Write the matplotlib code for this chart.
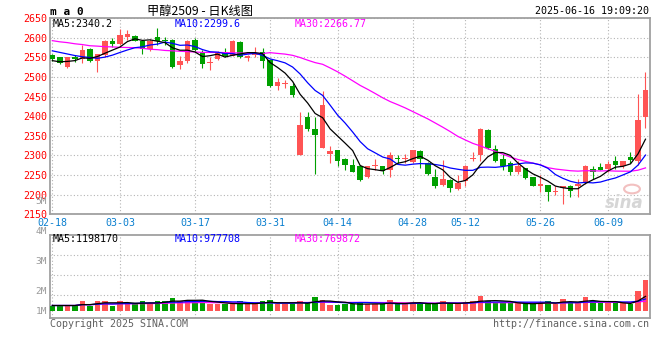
import numpy as np
import pandas as pd
import matplotlib
matplotlib.use("Agg")
import matplotlib.pyplot as plt

# ---------------- data ----------------
dates = ["02-18", "02-19", "02-20", "02-21", "02-24", "02-25", "02-26", "02-27", "02-28",
         "03-03", "03-04", "03-05", "03-06", "03-07", "03-10", "03-11", "03-12", "03-13", "03-14",
         "03-17", "03-18", "03-19", "03-20", "03-21", "03-24", "03-25", "03-26", "03-27", "03-28",
         "03-31", "04-01", "04-02", "04-03", "04-07", "04-08", "04-09", "04-10", "04-11",
         "04-14", "04-15", "04-16", "04-17", "04-18", "04-21", "04-22", "04-23", "04-24", "04-25",
         "04-28", "04-29", "04-30", "05-06", "05-07", "05-08", "05-09",
         "05-12", "05-13", "05-14", "05-15", "05-16", "05-19", "05-20", "05-21", "05-22", "05-23",
         "05-26", "05-27", "05-28", "05-29", "05-30", "06-03", "06-04", "06-05", "06-06",
         "06-09", "06-10", "06-11", "06-12", "06-13", "06-16"]

opens = [2556, 2550, 2527, 2552, 2545, 2572, 2540, 2556, 2593, 2584,
         2602, 2605, 2591, 2571, 2603, 2593, 2595, 2531, 2540, 2595,
         2565, 2535, 2545, 2563, 2555, 2589, 2548, 2557, 2563, 2544,
         2478, 2482, 2478, 2300, 2399, 2367, 2320, 2303, 2314, 2291,
         2276, 2274, 2244, 2273, 2272, 2262, 2294, 2291, 2283, 2312,
         2282, 2245, 2225, 2238, 2215, 2234, 2292, 2302, 2365, 2316,
         2291, 2282, 2257, 2268, 2245, 2223, 2225, 2208, 2217, 2223,
         2221, 2229, 2265, 2270, 2266, 2285, 2272, 2297, 2285, 2399]
highs = [2560, 2552, 2552, 2556, 2582, 2574, 2560, 2594, 2599, 2623,
         2620, 2608, 2592, 2596, 2624, 2603, 2597, 2554, 2595, 2599,
         2569, 2552, 2567, 2575, 2595, 2591, 2557, 2578, 2574, 2546,
         2497, 2493, 2484, 2412, 2412, 2399, 2465, 2323, 2315, 2293,
         2291, 2275, 2274, 2291, 2273, 2310, 2302, 2303, 2314, 2313,
         2284, 2266, 2289, 2240, 2251, 2275, 2310, 2371, 2367, 2327,
         2303, 2286, 2287, 2269, 2246, 2249, 2226, 2221, 2223, 2224,
         2240, 2275, 2272, 2282, 2287, 2299, 2287, 2310, 2457, 2512]
lows = [2542, 2533, 2524, 2539, 2537, 2538, 2512, 2552, 2578, 2582,
        2595, 2591, 2558, 2567, 2582, 2582, 2524, 2520, 2535, 2567,
        2523, 2517, 2543, 2550, 2553, 2548, 2540, 2552, 2524, 2476,
        2467, 2472, 2450, 2300, 2363, 2253, 2318, 2280, 2274, 2263,
        2257, 2234, 2242, 2263, 2252, 2244, 2280, 2280, 2281, 2268,
        2250, 2217, 2221, 2206, 2211, 2221, 2286, 2287, 2316, 2283,
        2262, 2249, 2254, 2240, 2221, 2208, 2183, 2200, 2176, 2195,
        2193, 2227, 2240, 2262, 2257, 2266, 2269, 2280, 2276, 2370]
closes = [2546, 2535, 2550, 2545, 2569, 2540, 2558, 2592, 2585, 2608,
          2610, 2593, 2572, 2592, 2591, 2592, 2527, 2541, 2592, 2569,
          2533, 2538, 2561, 2555, 2591, 2550, 2555, 2561, 2542, 2478,
          2487, 2483, 2455, 2378, 2367, 2353, 2429, 2312, 2287, 2276,
          2259, 2238, 2272, 2274, 2261, 2302, 2292, 2292, 2313, 2291,
          2252, 2221, 2240, 2217, 2229, 2274, 2293, 2368, 2319, 2285,
          2272, 2257, 2272, 2242, 2223, 2228, 2208, 2209, 2221, 2210,
          2228, 2274, 2258, 2264, 2279, 2276, 2285, 2289, 2391, 2467]
volumes = [440000, 440000, 440000, 440000, 800000, 440000, 800000, 800000, 440000, 800000,
           536000, 536000, 800000, 536000, 800000, 800000, 1016000, 800000, 856000, 800000,
           856000, 536000, 536000, 536000, 536000, 800000, 536000, 536000, 800000, 880000,
           536000, 536000, 536000, 800000, 696000, 1120000, 880000, 480000, 480000, 536000,
           536000, 696000, 536000, 536000, 536000, 880000, 536000, 536000, 744000, 616000,
           536000, 536000, 800000, 616000, 536000, 744000, 800000, 1200000, 800000, 616000,
           616000, 616000, 616000, 536000, 536000, 744000, 800000, 536000, 960000, 696000,
           616000, 1120000, 800000, 616000, 616000, 616000, 616000, 536000, 1600000, 2480000]

ma5_head = [2542, 2539, 2540, 2542]
ma10_head = [2567, 2563, 2559, 2555, 2552, 2550, 2548, 2551, 2556]
ma30_head = [2593, 2590, 2588, 2585, 2583, 2580, 2579, 2577.6, 2577, 2576,
             2575.5, 2575, 2573.5, 2571, 2570, 2568, 2567, 2566, 2565, 2564,
             2563, 2563, 2563, 2562.5, 2562, 2561.5, 2560.7, 2560.7, 2560]

tick_dates = ["02-18", "03-03", "03-17", "03-31", "04-14", "04-28", "05-12", "05-26", "06-09"]
price_ticks = [2150, 2200, 2250, 2300, 2350, 2400, 2450, 2500, 2550, 2600, 2650]
vol_labels = ["5M", "4M", "3M", "2M", "1M"]

title = "甲醇2509 - 日K线图"
timestamp = "2025-06-16 19:09:20"
ma_price_text = ["MA5:2340.2", "MA10:2299.6", "MA30:2266.77"]
ma_vol_text = ["MA5:1198170", "MA10:977708", "MA30:769872"]

# ---------------- styling ----------------
W, H = 660, 360
RED = "#ff5454"
GREEN = "#00a000"
GRID = "#b4b4b4"
BORDER = "#a0a0a0"
MONO = "DejaVu Sans Mono"
CJK = ["Noto Sans CJK SC", "DejaVu Sans"]
FS = 7.2

fig = plt.figure(figsize=(W / 100, H / 100), dpi=100)
fig.patch.set_facecolor("white")


def fx(px):
    return px / W


def fy(py):
    return 1 - py / H


ax = fig.add_axes([fx(50), fy(214.3), fx(600), 196 / H])
axv = fig.add_axes([fx(50), fy(318), fx(600), 83.5 / H])

n = len(closes)
x = np.arange(n)
o = np.array(opens, float)
c = np.array(closes, float)
h = np.array(highs, float)
l = np.array(lows, float)
up = c >= o
cols = np.where(up, RED, GREEN)

# candles
ax.vlines(x, l, h, colors=cols, linewidth=0.8, zorder=3)
body_low = np.minimum(o, c)
body_h = np.maximum(np.abs(c - o), 2.2)
ax.bar(x, body_h, bottom=body_low, width=0.74, color=cols, linewidth=0, zorder=4)

# moving averages
s = pd.Series(c)
ma5 = s.rolling(5).mean().to_numpy()
ma5[:4] = ma5_head
ma10 = s.rolling(10).mean().to_numpy()
ma10[:9] = ma10_head
ma30 = s.rolling(30).mean().to_numpy()
ma30[:29] = ma30_head
ax.plot(x, ma30, color="#ff00ff", lw=0.9, zorder=5)
ax.plot(x, ma10, color="#0000ff", lw=0.9, zorder=5)
ax.plot(x, ma5, color="black", lw=0.9, zorder=5)

xmin, xmax = -0.31, 79.6
ax.set_xlim(xmin, xmax)
ax.set_ylim(2150, 2650)

tick_pos = [dates.index(d) for d in tick_dates]
dot = (0, (1, 2))
for tp in tick_pos:
    ax.axvline(tp, color=GRID, lw=0.8, ls=dot, zorder=1)
    axv.axvline(tp, color=GRID, lw=0.8, ls=dot, zorder=1)
for pt in price_ticks:
    ax.axhline(pt, color=GRID, lw=0.8, ls=dot, zorder=1)

ax.set_yticks(price_ticks)
ax.set_yticklabels([str(p) for p in price_ticks], color="#ff0000", fontsize=FS, family=MONO)
ax.set_xticks(tick_pos)
ax.set_xticklabels(tick_dates, color="#0a7fcf", fontsize=FS, family=MONO)
ax.tick_params(axis="both", length=0)
ax.tick_params(axis="y", pad=2.2)
ax.tick_params(axis="x", pad=2.4)
for sp in ax.spines.values():
    sp.set_color(BORDER)
    sp.set_linewidth(1.3)

# volume panel
vol = np.array(volumes, float)
axv.bar(x, vol, width=0.74, color=cols, linewidth=0, zorder=3)
vs = pd.Series(vol)
axv.plot(x, vs.rolling(30, min_periods=1).mean(), color="#ff00ff", lw=0.9, zorder=4)
axv.plot(x, vs.rolling(10, min_periods=1).mean(), color="#0000ff", lw=0.9, zorder=4)
axv.plot(x, vs.rolling(5, min_periods=1).mean(), color="black", lw=0.9, zorder=4)
axv.set_xlim(xmin, xmax)
axv.set_ylim(-560000, 6120000)
for gv in [1.28e6, 2.88e6, 4.48e6]:
    axv.axhline(gv, color=GRID, lw=0.8, ls=dot, zorder=1)
axv.set_xticks([])
axv.set_yticks([])
for sp in axv.spines.values():
    sp.set_color(BORDER)
    sp.set_linewidth(1.3)

# volume labels (positions as drawn by the source chart)
for lab, py in zip(vol_labels, [202, 232, 261, 291, 311]):
    fig.text(fx(47), fy(py), lab, ha="right", va="center", color="#999999",
             fontsize=6.8, family=MONO)

# header texts
fig.text(fx(50), fy(12), "m a 0", ha="left", va="center", fontsize=8,
         fontweight="bold", family=MONO, color="black")
fig.text(fx(200), fy(11), title, ha="center", va="center", fontsize=8.8,
         family=CJK, color="black")
fig.text(fx(649), fy(11), timestamp, ha="right", va="center", fontsize=FS,
         family=MONO, color="black")

ma_cols = ["black", "#0000ff", "#ff00ff"]
for t, cc, px in zip(ma_price_text, ma_cols, [53, 175, 295]):
    fig.text(fx(px), fy(24), t, ha="left", va="center", fontsize=FS, family=MONO, color=cc)
for t, cc, px in zip(ma_vol_text, ma_cols, [53, 175, 295]):
    fig.text(fx(px), fy(238.5), t, ha="left", va="center", fontsize=FS, family=MONO, color=cc)

fig.text(fx(50), fy(324), "Copyright 2025 SINA.COM", ha="left", va="center",
         fontsize=FS, family=MONO, color="#606060")
fig.text(fx(649), fy(324), "http://finance.sina.com.cn", ha="right", va="center",
         fontsize=FS, family=MONO, color="#606060")

# watermark
fig.text(fx(624), fy(203), "sina", ha="center", va="center", fontsize=12,
         fontstyle="italic", fontweight="bold", color="#d6d6d6", family="DejaVu Sans")
fig.patches.append(matplotlib.patches.Circle((fx(632), fy(189)), 0.012,
                   transform=fig.transFigure, facecolor="none",
                   edgecolor="#f2c0c0", lw=1.5))

fig.savefig("out.png", dpi=100, facecolor="white")
